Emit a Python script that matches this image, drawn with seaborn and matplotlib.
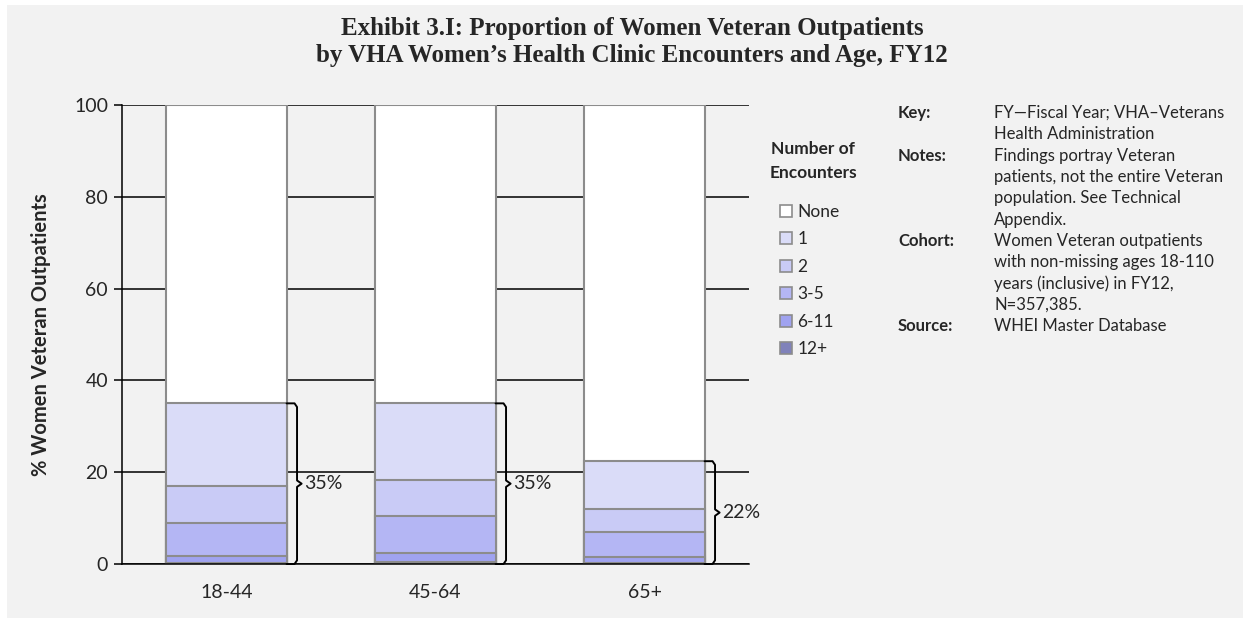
import matplotlib
matplotlib.use('Agg')
from matplotlib import pyplot as plt
from matplotlib.patches import Patch, Rectangle
import pandas as pd
import seaborn as sns

# age groups on the x axis
ages = ['18-44', '45-64', '65+']

# encounter categories, bottom of the stack first
categories = ['12+', '6-11', '3-5', '2', '1', 'None']

# % of women veteran outpatients per category
pct_12plus = [0.3, 0.4, 0.3]
pct_6_11 = [1.4, 2.1, 1.3]
pct_3_5 = [7.3, 8.0, 5.4]
pct_2 = [8.0, 7.8, 5.0]
pct_1 = [18.0, 16.7, 10.4]
pct_none = [100 - a - b - c - d - e for a, b, c, d, e in
            zip(pct_12plus, pct_6_11, pct_3_5, pct_2, pct_1)]

colors = {'12+': '#8082ba', '6-11': '#a0a3f0', '3-5': '#b4b6f4',
          '2': '#c9cbf6', '1': '#dadcf8', 'None': '#ffffff'}

notes = [
    ('Key:', ['FY\u2014Fiscal Year; VHA\u2013Veterans', 'Health Administration']),
    ('Notes:', ['Findings portray Veteran', 'patients, not the entire Veteran',
                'population. See Technical', 'Appendix.']),
    ('Cohort:', ['Women Veteran outpatients', 'with non-missing ages 18-110',
                 'years (inclusive) in FY12,', 'N=357,385.']),
    ('Source:', ['WHEI Master Database']),
]

# long table with cumulative heights for the stacked bars
values = [pct_12plus, pct_6_11, pct_3_5, pct_2, pct_1, pct_none]
rows = []
for i, age in enumerate(ages):
    cum = 0
    for cat, vals in zip(categories, values):
        cum += vals[i]
        rows.append({'age': age, 'category': cat, 'value': vals[i], 'cum': cum})
df = pd.DataFrame(rows)

sns.set_style('white')
plt.rcParams['font.family'] = ['Lato', 'DejaVu Sans']

W, H = 1250, 622
fig = plt.figure(figsize=(W / 100, H / 100), dpi=100)
fig.patch.set_facecolor('white')
fig.patches.append(Rectangle((7 / W, 1 - 618 / H), 1236 / W, 613 / H,
                             transform=fig.transFigure, facecolor='#f2f2f2',
                             edgecolor='none', zorder=-10))

ax = fig.add_axes([122 / W, 1 - 564 / H, 627 / W, 459 / H])
ax.set_facecolor('none')

bar_w = 0.575
# draw from the tallest cumulative layer down so each layer shows its own band
for cat in reversed(categories):
    sub = df[df['category'] == cat]
    sns.barplot(data=sub, x='age', y='cum', order=ages, color=colors[cat],
                saturation=1, width=bar_w, edgecolor='#8c8c8c', linewidth=1.5,
                ax=ax, zorder=2)

ax.set_ylim(0, 100)
ax.set_xlim(-0.5, 2.5)
ax.set_yticks([0, 20, 40, 60, 80, 100])
ax.yaxis.grid(True, color='black', linewidth=1.1)
ax.set_axisbelow(True)
for s in ['top', 'right']:
    ax.spines[s].set_visible(False)
ax.spines['left'].set_color('black')
ax.spines['bottom'].set_color('black')
ax.spines['left'].set_linewidth(1.1)
ax.spines['bottom'].set_linewidth(1.1)
ax.tick_params(axis='y', left=True, length=6, width=1.1, color='black',
               labelsize=14, pad=4)
ax.tick_params(axis='x', bottom=False, labelsize=14, pad=11)
ax.set_xlabel('')
ax.set_ylabel('% Women Veteran Outpatients', fontsize=14.5, fontweight='bold',
              labelpad=17)

# curly braces with the share of patients with at least one encounter
totals = df[df['category'] == '1'].set_index('age').loc[ages, 'cum'].values
for i, tot in enumerate(totals):
    xr = i + bar_w / 2
    xv = xr + 0.05
    xt = xr + 0.072
    mid = tot / 2
    c = 0.012
    xs = [xr, xv - c, xv, xv, xt, xv, xv, xv - c, xr]
    ys = [tot, tot, tot - 0.8, mid + 0.7, mid, mid - 0.7, 0.8, 0, 0]
    ax.plot(xs, ys, color='black', linewidth=1.4, zorder=3, clip_on=False)
    ax.text(xt + 0.01, mid, f'{tot:.0f}%', fontsize=14, va='center',
            ha='left', zorder=3)

# title
fig.text(632 / W, 1 - 35 / H,
         'Exhibit 3.I: Proportion of Women Veteran Outpatients',
         family='Liberation Serif', fontweight='bold', fontsize=18,
         ha='center', va='baseline')
fig.text(632 / W, 1 - 62 / H,
         'by VHA Women\u2019s Health Clinic Encounters and Age, FY12',
         family='Liberation Serif', fontweight='bold', fontsize=18,
         ha='center', va='baseline')

# legend
fig.text(813 / W, 1 - 149 / H, 'Number of', fontsize=12.5, fontweight='bold',
         ha='center', va='center')
fig.text(813 / W, 1 - 173 / H, 'Encounters', fontsize=12.5, fontweight='bold',
         ha='center', va='center')
handles = [Patch(facecolor=colors[c], edgecolor='#8c8c8c', linewidth=1.2,
                 label=c) for c in reversed(categories)]
fig.legend(handles=handles, loc='upper left', bbox_to_anchor=(780 / W, 1 - 204 / H),
           frameon=False, fontsize=12.5, handlelength=0.7, handleheight=0.7,
           handletextpad=0.3, labelspacing=0.66, borderpad=0, borderaxespad=0)

# key / notes block
y = 113
for label, lines in notes:
    fig.text(898 / W, 1 - y / H, label, fontsize=12, fontweight='bold',
             va='center', ha='left')
    for line in lines:
        fig.text(994 / W, 1 - y / H, line, fontsize=12, va='center', ha='left')
        y += 21.3

fig.savefig('out.png', dpi=100, facecolor=fig.get_facecolor())
